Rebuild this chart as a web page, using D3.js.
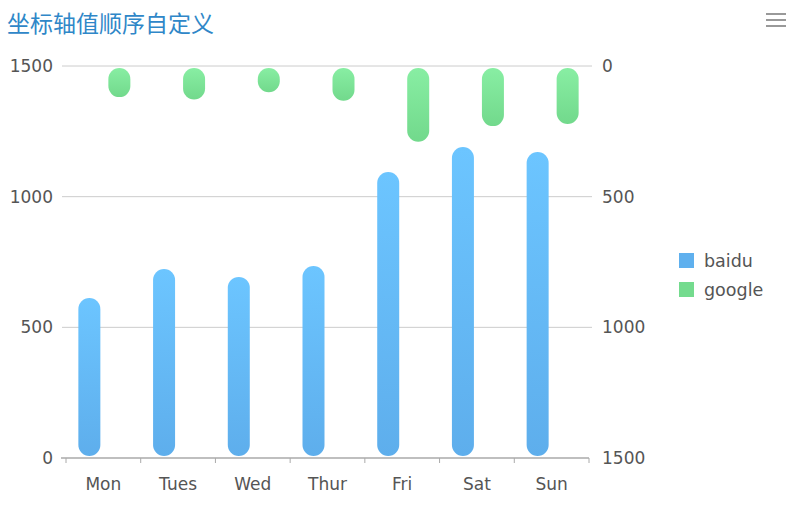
<!DOCTYPE html>
<html>
<head>
<meta charset="utf-8">
<script src="https://cdn.jsdelivr.net/npm/d3@7"></script>
<style>
  body { margin: 0; background: #fff; }
  svg { display: block; font-family: "DejaVu Sans", "Noto Sans CJK SC", sans-serif; }
</style>
</head>
<body>
<svg id="chart" width="789" height="525"></svg>
<script>
const categories = ["Mon", "Tues", "Wed", "Thur", "Fri", "Sat", "Sun"];
const baidu = [612, 723, 693, 735, 1094, 1190, 1171];
const google = [119, 128, 100, 133, 290, 230, 222];
const leftTicks = [0, 500, 1000, 1500];
const rightTicks = [0, 500, 1000, 1500];

const width = 789;
const height = 525;
const plot = { left: 66, right: 589, top: 66, bottom: 458 };

const svg = d3.select("#chart");

const defs = svg.append("defs");
const blueGrad = defs.append("linearGradient")
  .attr("id", "gBlue").attr("x1", 0).attr("y1", 0).attr("x2", 0).attr("y2", 1);
blueGrad.append("stop").attr("offset", "0%").attr("stop-color", "#6cc5ff");
blueGrad.append("stop").attr("offset", "100%").attr("stop-color", "#5eaeec");
const greenGrad = defs.append("linearGradient")
  .attr("id", "gGreen").attr("x1", 0).attr("y1", 0).attr("x2", 0).attr("y2", 1);
greenGrad.append("stop").attr("offset", "0%").attr("stop-color", "#88eea3");
greenGrad.append("stop").attr("offset", "100%").attr("stop-color", "#72d98c");

// scales
const x = d3.scaleBand().domain(categories).range([plot.left, plot.right]);
const yLeft = d3.scaleLinear().domain([0, 1500]).range([plot.bottom, plot.top]);
const yRight = d3.scaleLinear().domain([0, 1500]).range([plot.top, plot.bottom]);

// title
svg.append("text")
  .attr("x", 7).attr("y", 32)
  .attr("font-family", "'Noto Sans CJK SC', sans-serif")
  .attr("font-size", 23)
  .attr("fill", "#2f87c8")
  .text("坐标轴值顺序自定义");

// menu icon
svg.append("g").selectAll("rect")
  .data([13, 19, 25])
  .join("rect")
  .attr("x", 766).attr("y", d => d).attr("width", 20).attr("height", 2)
  .attr("fill", "#999");

// gridlines
svg.append("g").selectAll("line")
  .data(leftTicks.filter(d => d > 0))
  .join("line")
  .attr("x1", 62).attr("x2", 592)
  .attr("y1", d => yLeft(d)).attr("y2", d => yLeft(d))
  .attr("stroke", "#ccc").attr("stroke-width", 1);

// left axis labels
svg.append("g").selectAll("text")
  .data(leftTicks)
  .join("text")
  .attr("x", 53).attr("y", d => yLeft(d) + 6)
  .attr("text-anchor", "end")
  .attr("font-size", 17).attr("fill", "#555")
  .text(d => d);

// right axis labels
svg.append("g").selectAll("text")
  .data(rightTicks)
  .join("text")
  .attr("x", 602).attr("y", d => yRight(d) + 6)
  .attr("text-anchor", "start")
  .attr("font-size", 17).attr("fill", "#555")
  .text(d => d);

// bars
const barW = 22;
const gap = 8;
const bars = svg.append("g");
bars.selectAll("rect.baidu")
  .data(baidu)
  .join("rect")
  .attr("class", "baidu")
  .attr("x", (d, i) => x(categories[i]) + x.bandwidth() / 2 - gap / 2 - barW + 1)
  .attr("y", d => yLeft(d))
  .attr("width", barW)
  .attr("height", d => yLeft(0) - yLeft(d) - 2)
  .attr("rx", barW / 2).attr("ry", barW / 2)
  .attr("fill", "url(#gBlue)");

bars.selectAll("rect.google")
  .data(google)
  .join("rect")
  .attr("class", "google")
  .attr("x", (d, i) => x(categories[i]) + x.bandwidth() / 2 + gap / 2 + 1)
  .attr("y", yRight(0) + 2)
  .attr("width", barW)
  .attr("height", d => yRight(d) - yRight(0) - 2)
  .attr("rx", d => Math.min(barW / 2, (yRight(d) - yRight(0) - 2) / 2))
  .attr("ry", d => Math.min(barW / 2, (yRight(d) - yRight(0) - 2) / 2))
  .attr("fill", "url(#gGreen)");

// x axis
const xAxis = svg.append("g").attr("transform", `translate(0,${plot.bottom})`);
xAxis.append("line")
  .attr("x1", 61).attr("x2", 589)
  .attr("stroke", "#aaa").attr("stroke-width", 1.5);
xAxis.selectAll("line.tick")
  .data(categories.concat([null]))
  .join("line")
  .attr("class", "tick")
  .attr("x1", (d, i) => plot.left + i * x.bandwidth())
  .attr("x2", (d, i) => plot.left + i * x.bandwidth())
  .attr("y1", 0).attr("y2", 5)
  .attr("stroke", "#aaa");
xAxis.selectAll("text")
  .data(categories)
  .join("text")
  .attr("x", d => x(d) + x.bandwidth() / 2)
  .attr("y", 32)
  .attr("text-anchor", "middle")
  .attr("font-size", 17).attr("fill", "#555")
  .text(d => d);

// legend
const legend = svg.append("g").attr("transform", "translate(679,253)");
const items = [
  { name: "baidu", color: "#5fb0ee" },
  { name: "google", color: "#74db8e" }
];
const li = legend.selectAll("g")
  .data(items)
  .join("g")
  .attr("transform", (d, i) => `translate(0,${i * 29})`);
li.append("rect").attr("width", 15).attr("height", 15).attr("fill", d => d.color);
li.append("text")
  .attr("x", 25).attr("y", 14)
  .attr("font-size", 17.5).attr("fill", "#555")
  .text(d => d.name);
</script>
</body>
</html>
